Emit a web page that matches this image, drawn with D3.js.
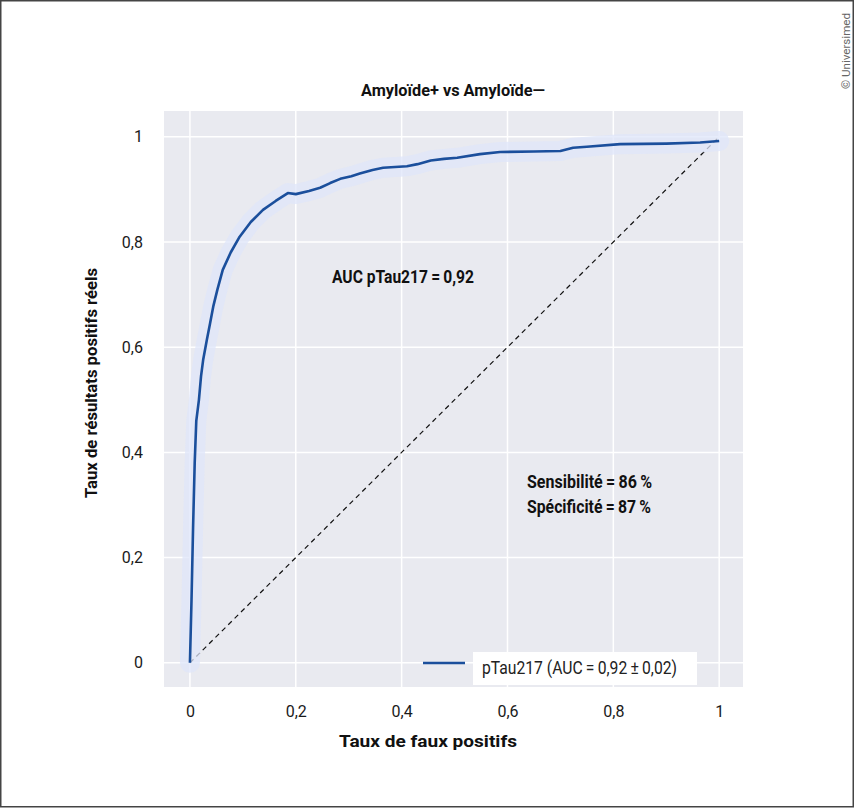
<!DOCTYPE html>
<html>
<head>
<meta charset="utf-8">
<script src="https://cdn.jsdelivr.net/npm/d3@7"></script>
<style>
  body { margin: 0; background: #fff; }
  svg { display: block; }
  .tick text { font-family: Roboto, "Liberation Sans", Arial, sans-serif; font-size: 16px; fill: #1a1a1a; }
</style>
</head>
<body>
<svg id="chart"></svg>
<script>
// ROC curve
const fpr = [0, 0.003, 0.006, 0.009, 0.012, 0.017, 0.021, 0.025, 0.032, 0.038, 0.044, 0.052,
  0.062, 0.077, 0.094, 0.115, 0.138, 0.162, 0.185, 0.2, 0.225, 0.246, 0.265, 0.284, 0.305,
  0.321, 0.345, 0.365, 0.41, 0.43, 0.455, 0.48, 0.505, 0.548, 0.586, 0.65, 0.7, 0.724, 0.75,
  0.813, 0.9, 0.964, 1];
const tpr = [0, 0.12, 0.26, 0.38, 0.46, 0.5, 0.545, 0.576, 0.614, 0.645, 0.677, 0.71,
  0.747, 0.78, 0.81, 0.838, 0.861, 0.878, 0.893, 0.891, 0.897, 0.903, 0.912, 0.92, 0.925,
  0.93, 0.937, 0.941, 0.944, 0.948, 0.955, 0.958, 0.96, 0.967, 0.971, 0.972, 0.973, 0.979, 0.981,
  0.986, 0.987, 0.989, 0.992];
const chance = [0, 1];
const tickValues = [0, 0.2, 0.4, 0.6, 0.8, 1];

const title = 'Amyloïde+ vs Amyloïde—';
const xLabel = 'Taux de faux positifs';
const yLabel = 'Taux de résultats positifs réels';
const aucNote = 'AUC pTau217\u2009=\u20090,92';
const statNotes = ['Sensibilité\u2009=\u200986\u2009%', 'Spécificité\u2009=\u200987\u2009%'];
const legendLabel = 'pTau217 (AUC\u2009=\u20090,92\u2009±\u20090,02)';
const credit = '© Universimed';

const W = 854, H = 808;
const plot = { left: 164, right: 743, top: 111, bottom: 687 };
const font = 'Roboto, "Liberation Sans", Arial, sans-serif';
const blue = '#1b4f9c';

const svg = d3.select('#chart')
  .attr('width', W)
  .attr('height', H);

svg.append('rect')
  .attr('x', 0.75).attr('y', 0.75)
  .attr('width', W - 1.5).attr('height', 806)
  .attr('fill', '#fff')
  .attr('stroke', '#444')
  .attr('stroke-width', 1.5);

const x = d3.scaleLinear().domain([-0.049, 1.045]).range([plot.left, plot.right]);
const y = d3.scaleLinear().domain([-0.046, 1.049]).range([plot.bottom, plot.top]);

svg.append('rect')
  .attr('x', plot.left).attr('y', plot.top)
  .attr('width', plot.right - plot.left)
  .attr('height', plot.bottom - plot.top)
  .attr('fill', '#e9eaf0');

// grid
const grid = svg.append('g').attr('stroke', '#fff').attr('stroke-width', 1.5);
grid.selectAll('.vx').data(tickValues).enter().append('line')
  .attr('x1', d => x(d)).attr('x2', d => x(d))
  .attr('y1', plot.top).attr('y2', plot.bottom);
grid.selectAll('.hy').data(tickValues).enter().append('line')
  .attr('y1', d => y(d)).attr('y2', d => y(d))
  .attr('x1', plot.left).attr('x2', plot.right);

const fmt = d => String(d).replace('.', ',');

const xAxis = d3.axisBottom(x).tickValues(tickValues).tickFormat(fmt).tickSize(0).tickPadding(19);
const yAxis = d3.axisLeft(y).tickValues(tickValues).tickFormat(fmt).tickSize(0).tickPadding(21);

svg.append('g')
  .attr('transform', `translate(0,${plot.bottom})`)
  .call(xAxis)
  .call(g => g.select('.domain').remove());

svg.append('g')
  .attr('transform', `translate(${plot.left},0)`)
  .call(yAxis)
  .call(g => g.select('.domain').remove());

// chance line
const pts = fpr.map((d, i) => [d, tpr[i]]);
const line = d3.line().x(d => x(d[0])).y(d => y(d[1]));

svg.append('path')
  .datum(chance.map(d => [d, d]))
  .attr('d', line)
  .attr('fill', 'none')
  .attr('stroke', '#111')
  .attr('stroke-width', 1.2)
  .attr('stroke-dasharray', '5,4');

// confidence band (soft halo) and curve
svg.append('path')
  .datum(pts)
  .attr('d', line)
  .attr('fill', 'none')
  .attr('stroke', '#dfe5fa')
  .attr('stroke-opacity', 0.75)
  .attr('stroke-width', 20)
  .attr('stroke-linejoin', 'round')
  .attr('stroke-linecap', 'round');

svg.append('path')
  .datum(pts)
  .attr('d', line)
  .attr('fill', 'none')
  .attr('stroke', blue)
  .attr('stroke-width', 2.6)
  .attr('stroke-linejoin', 'round');

// texts
function label(txt, px, py, size, width, weight) {
  return svg.append('text')
    .attr('x', px).attr('y', py)
    .attr('textLength', width)
    .attr('lengthAdjust', 'spacingAndGlyphs')
    .style('font-family', font)
    .style('font-weight', weight || 'bold')
    .style('font-size', size + 'px')
    .style('fill', '#111')
    .text(txt);
}

label(title, 361, 96, 17, 184);
label(xLabel, 339, 747, 17, 178);
label(aucNote, 332, 283, 18.5, 142);
statNotes.forEach((d, i) => label(d, 527, 488 + i * 25, 18.5, i ? 124 : 125));

svg.append('text')
  .attr('transform', 'translate(97,498) rotate(-90)')
  .attr('textLength', 230)
  .attr('lengthAdjust', 'spacingAndGlyphs')
  .style('font-family', font).style('font-weight', 'bold').style('font-size', '17px')
  .style('fill', '#111')
  .text(yLabel);

// legend
svg.append('line')
  .attr('x1', 423).attr('x2', 465).attr('y1', 663).attr('y2', 663)
  .attr('stroke', blue).attr('stroke-width', 2.6);
svg.append('rect')
  .attr('x', 473).attr('y', 652).attr('width', 224).attr('height', 33)
  .attr('fill', '#fff');
label(legendLabel, 482, 674, 18, 195, 'normal').style('fill', '#222');

svg.append('text')
  .attr('transform', 'translate(850,13) rotate(-90)')
  .attr('text-anchor', 'end')
  .attr('textLength', 76)
  .attr('lengthAdjust', 'spacingAndGlyphs')
  .style('font-family', font).style('font-size', '11px')
  .style('fill', '#666')
  .text(credit);
</script>
</body>
</html>
